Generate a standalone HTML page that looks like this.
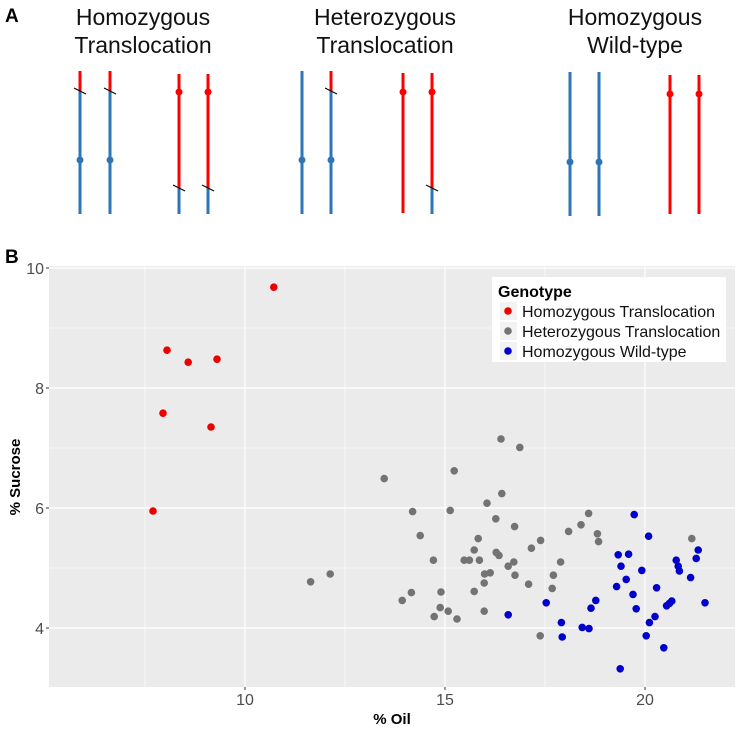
<!DOCTYPE html>
<html><head><meta charset="utf-8"><style>
body{margin:0;background:#fff;}
svg{display:block;font-family:"Liberation Sans",sans-serif;}
</style></head><body>
<svg id="s" width="740" height="730"></svg>
<script>
const redPts=[[10.72,9.68],[8.05,8.63],[8.58,8.43],[9.3,8.48],[7.95,7.58],[9.15,7.35],[7.7,5.95]];
const grayPts=[[13.48,6.49],[14.19,5.94],[14.38,5.54],[14.71,5.13],[12.13,4.90],[11.64,4.77],[14.16,4.59],[13.93,4.46],[14.90,4.60],[14.88,4.34],[14.73,4.19],
[16.40,7.15],[16.87,7.01],[15.23,6.62],[16.42,6.24],[16.05,6.08],[15.13,5.96],[16.27,5.82],[16.74,5.69],[15.83,5.49],[15.73,5.30],[15.48,5.13],[15.61,5.13],[15.86,5.13],[16.28,5.26],[16.35,5.21],[16.58,5.03],[16.72,5.10],[16.75,4.88],[15.99,4.90],[16.13,4.92],[15.98,4.75],[15.73,4.61],[15.08,4.28],[15.30,4.15],[15.98,4.28],[17.09,4.73],[17.16,5.33],[17.39,5.46],[17.71,4.88],[17.68,4.66],[17.89,5.10],[18.09,5.61],[18.40,5.72],[18.59,5.91],[18.81,5.57],[18.84,5.44],[17.38,3.87],[21.17,5.49]];
const bluePts=[[19.73,5.89],[20.09,5.53],[19.33,5.22],[19.59,5.23],[19.40,5.03],[19.92,4.96],[19.53,4.81],[19.29,4.69],[19.70,4.56],[20.29,4.67],[19.78,4.32],[18.77,4.46],[18.65,4.33],[17.91,4.09],[17.93,3.85],[18.43,4.01],[18.60,3.99],[17.53,4.42],[16.58,4.22],[20.11,4.09],[20.25,4.19],[20.03,3.87],[20.47,3.67],[19.38,3.32],[20.78,5.13],[20.83,5.03],[20.86,4.95],[21.14,4.84],[21.28,5.16],[21.33,5.30],[20.54,4.37],[20.61,4.41],[20.67,4.45],[21.50,4.42]];
const xTicks=[10,15,20];
const yTicks=[4,6,8,10];
const legendLabels=["Homozygous Translocation","Heterozygous Translocation","Homozygous Wild-type"];
const colors=["#ee0000","#737373","#0000cc"];

const S=document.getElementById('s');const NS="http://www.w3.org/2000/svg";
function el(t,a,p){const e=document.createElementNS(NS,t);for(const k in a)e.setAttribute(k,a[k]);(p||S).appendChild(e);return e;}
const X=v=>245+40*(v-10), Y=v=>268+60*(10-v);
const L=49,R=735,T=266,B=687;

// Panel A
let t=el('text',{x:5,y:22,'font-size':19,'font-weight':'bold'});t.textContent='A';


const titles=[[143,'Homozygous','Translocation'],[385,'Heterozygous','Translocation'],[635,'Homozygous','Wild-type']];
titles.forEach(d=>{const g=el('text',{x:d[0],y:25,'font-size':23,'text-anchor':'middle',fill:'#111'});


el('tspan',{x:d[0],dy:0},g).textContent=d[1];el('tspan',{x:d[0],dy:28},g).textContent=d[2];});
const BL='#2e75b6',RD='#ff0000';
const chrom=[
[80,[[71,91,RD],[91,214,BL]],160,BL,91],[110,[[71,91,RD],[91,214,BL]],160,BL,91],
[179,[[74,188,RD],[188,214,BL]],92,RD,188],[208,[[74,188,RD],[188,214,BL]],92,RD,188],
[302,[[71,214,BL]],160,BL,null],[331,[[71,91,RD],[91,214,BL]],160,BL,91],
[403,[[73,213,RD]],92,RD,null],[432,[[73,188,RD],[188,214,BL]],92,RD,188],
[570,[[72,216,BL]],162,BL,null],[599,[[72,216,BL]],162,BL,null],
[670,[[75,214,RD]],94,RD,null],[699,[[75,214,RD]],94,RD,null]];
chrom.forEach(c=>{const g=el('g',{});


c[1].forEach(s=>el('line',{x1:c[0],x2:c[0],y1:s[0],y2:s[1],stroke:s[2],'stroke-width':3},g));
el('circle',{cx:c[0],cy:c[2],r:3.5,fill:c[3]},g);
if(c[4])el('line',{x1:c[0]-6,y1:c[4]-3,x2:c[0]+6,y2:c[4]+3,stroke:'#000','stroke-width':1},g);});

// Panel B
t=el('text',{x:5,y:263,'font-size':19,'font-weight':'bold'});t.textContent='B';


const bg=el('rect',{x:L,y:T,width:R-L,height:B-T,fill:'#ebebeb'});


[7.5,12.5,17.5].forEach(v=>el('line',{x1:X(v),x2:X(v),y1:T,y2:B,stroke:'#fff','stroke-width':0.6}));
[3,5,7,9].forEach(v=>el('line',{x1:L,x2:R,y1:Y(v),y2:Y(v),stroke:'#fff','stroke-width':0.6}));
xTicks.forEach(v=>{el('line',{x1:X(v),x2:X(v),y1:T,y2:B,stroke:'#fff','stroke-width':1.2});
el('line',{x1:X(v),x2:X(v),y1:B,y2:B+3,stroke:'#333'});
const tt=el('text',{x:X(v),y:B+18,'font-size':16,'text-anchor':'middle',fill:'#4d4d4d'});tt.textContent=v;

});
yTicks.forEach(v=>{el('line',{x1:L,x2:R,y1:Y(v),y2:Y(v),stroke:'#fff','stroke-width':1.2});
el('line',{x1:L-3,x2:L,y1:Y(v),y2:Y(v),stroke:'#333'});
const tt=el('text',{x:L-5,y:Y(v)+6,'font-size':16,'text-anchor':'end',fill:'#4d4d4d'});tt.textContent=v;

});
[[redPts,0],[grayPts,1],[bluePts,2]].forEach(([pts,i])=>pts.forEach(p=>{
const c=el('circle',{cx:X(p[0]),cy:Y(p[1]),r:3.8,fill:colors[i]});

}));
t=el('text',{x:392,y:724,'font-size':15,'font-weight':'bold','text-anchor':'middle'});t.textContent='% Oil';


t=el('text',{x:0,y:0,'font-size':15,'font-weight':'bold','text-anchor':'middle',transform:'translate(20,477) rotate(-90)'});t.textContent='% Sucrose';


// legend
const lg=el('g',{});


el('rect',{x:492,y:277,width:234,height:85,fill:'#fff'},lg);
t=el('text',{x:498,y:297,'font-size':16,'font-weight':'bold'},lg);t.textContent='Genotype';
legendLabels.forEach((s,i)=>{const g=el('g',{},lg);


el('rect',{x:500,y:302+i*20,width:17,height:18,fill:'#f2f2f2'},g);
el('circle',{cx:508,cy:311+i*20,r:3.8,fill:colors[i]},g);
const tx=el('text',{x:522,y:317+i*20,'font-size':16,fill:'#111'},g);tx.textContent=s;});
</script>
</body></html>
